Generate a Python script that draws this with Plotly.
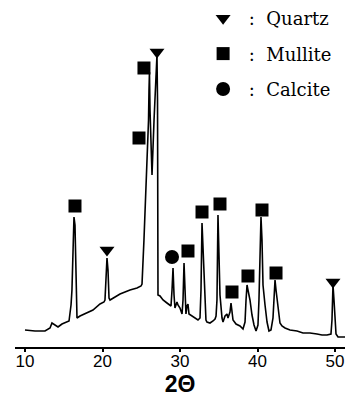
import plotly.graph_objects as go

# XRD pattern (2-theta in degrees, intensity in arbitrary units)
two_theta = [10.00, 11.29, 12.58, 13.23, 13.48, 13.87, 14.26, 14.77, 15.29, 15.68,
             15.81, 15.94, 16.06, 16.19, 16.32, 16.45, 16.58, 16.71, 17.10, 18.00,
             18.77, 19.68, 20.19, 20.32, 20.45, 20.58, 20.71, 20.84, 20.97, 22.26,
             23.55, 24.45, 24.97, 25.10, 25.35, 25.61, 25.74, 25.81, 25.87, 25.94,
             26.00, 26.06, 26.13, 26.26, 26.39, 26.65, 26.90, 27.03, 27.10, 27.16,
             27.42, 27.81, 28.32, 28.71, 28.84, 28.97, 29.10, 29.23, 29.35, 29.61,
             29.74, 30.00, 30.26, 30.39, 30.52, 30.65, 30.77, 30.90, 31.03, 31.16,
             31.55, 32.32, 32.58, 32.71, 32.84, 32.97, 33.23, 33.35, 33.48, 33.87,
             34.26, 34.52, 34.65, 34.77, 34.90, 35.03, 35.16, 35.42, 35.55, 35.81,
             36.06, 36.19, 36.45, 36.58, 36.71, 36.84, 37.23, 37.74, 38.13, 38.39,
             38.52, 38.65, 38.77, 39.03, 39.29, 39.55, 39.81, 40.06, 40.19, 40.32,
             40.45, 40.58, 40.71, 40.97, 41.23, 41.48, 41.74, 42.00, 42.13, 42.26,
             42.39, 42.65, 42.90, 43.16, 43.55, 44.19, 45.10, 45.87, 46.77, 47.68,
             48.32, 48.97, 49.48, 49.61, 49.74, 49.87, 50.00, 50.13, 50.39, 50.90,
             51.29]
intensity = [17, 16, 16, 19, 24, 22, 20, 23, 25, 26,
             34, 42, 57, 97, 130, 122, 87, 29, 31, 34,
             37, 43, 45, 47, 72, 89, 77, 49, 47, 53,
             57, 59, 61, 63, 107, 157, 172, 187, 197, 227,
             257, 275, 237, 187, 172, 227, 277, 292, 247, 52,
             51, 47, 44, 41, 41, 57, 79, 52, 39, 45,
             42, 39, 33, 47, 84, 57, 33, 41, 43, 33,
             31, 27, 29, 57, 124, 97, 52, 27, 25, 24,
             26, 28, 31, 47, 132, 97, 52, 29, 25, 31,
             33, 29, 35, 44, 37, 27, 23, 21, 18, 25,
             47, 62, 57, 47, 32, 22, 16, 22, 47, 97,
             130, 107, 62, 42, 25, 16, 17, 29, 52, 67,
             57, 37, 24, 21, 19, 17, 16, 14, 14, 13,
             12, 12, 13, 27, 62, 47, 22, 13, 10, 10,
             10]

# Phase identification markers (position, marker height)
quartz_theta = [20.58, 27.03, 49.74]
quartz_y = [97, 295, 65]
mullite_theta = [16.45, 24.71, 25.35, 31.03, 32.84, 35.16, 36.71, 38.77, 40.58, 42.39]
mullite_y = [141, 209, 279, 96, 135, 143, 55, 71, 137, 74]
calcite_theta = [28.97]
calcite_y = [90]

tick_vals = [10, 20, 30, 40, 50]
tick_text = ["10", "20", "30", "40", "50"]

fig = go.Figure()
fig.add_trace(go.Scatter(x=two_theta, y=intensity, mode="lines",
                         line=dict(color="black", width=1.6),
                         showlegend=False, hoverinfo="skip"))
fig.add_trace(go.Scatter(x=quartz_theta, y=quartz_y, mode="markers",
                         name=" :  Quartz", legendgroup="q",
                         marker=dict(symbol="triangle-down", size=13, color="black")))
fig.add_trace(go.Scatter(x=mullite_theta, y=mullite_y, mode="markers",
                         name=" :  Mullite", legendgroup="m",
                         marker=dict(symbol="square", size=13, color="black")))
fig.add_trace(go.Scatter(x=calcite_theta, y=calcite_y, mode="markers",
                         name=" :  Calcite", legendgroup="c",
                         marker=dict(symbol="circle", size=14, color="black")))

fig.update_layout(
    width=345, height=402,
    margin=dict(l=15, r=0, t=0, b=55),
    paper_bgcolor="white", plot_bgcolor="white",
    legend=dict(x=0.57, xanchor="left", y=1.0, yanchor="top",
                font=dict(family="DejaVu Serif", size=18, color="black"),
                bgcolor="rgba(0,0,0,0)", traceorder="grouped",
                tracegroupgap=9),
    xaxis=dict(range=[8.71, 51.29], showgrid=False, zeroline=False,
               showline=True, linecolor="black", linewidth=2,
               ticks="outside", ticklen=3, tickwidth=1.5, tickcolor="black",
               tickvals=tick_vals, ticktext=tick_text, automargin=False,
               ticklabelstandoff=-5,
               tickfont=dict(family="Liberation Sans", size=17, color="black"),
               title=dict(text="<b>2Θ</b>", standoff=0,
                          font=dict(family="Liberation Sans", size=23, color="black"))),
    yaxis=dict(range=[0, 347], visible=False),
)

fig.write_html("out.html")
